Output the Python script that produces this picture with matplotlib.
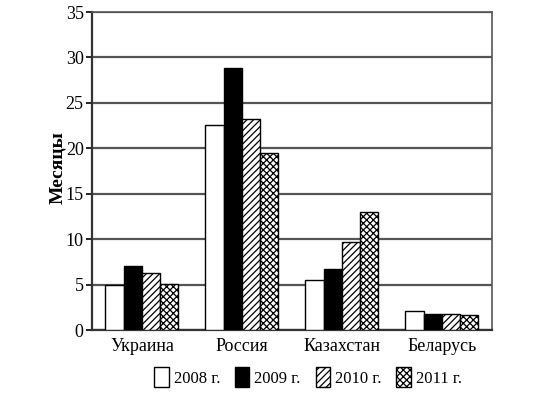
import matplotlib
matplotlib.use("Agg")
import matplotlib.pyplot as plt
import numpy as np

countries = ["Украина", "Россия", "Казахстан", "Беларусь"]
years = ["2008 г.", "2009 г.", "2010 г.", "2011 г."]
v2008 = [5.0, 22.6, 5.5, 2.1]
v2009 = [7.1, 28.8, 6.7, 1.75]
v2010 = [6.3, 23.2, 9.7, 1.75]
v2011 = [5.1, 19.5, 13.0, 1.6]
yticks = [0, 5, 10, 15, 20, 25, 30, 35]

plt.rcParams["font.family"] = ["Liberation Serif", "DejaVu Serif"]
plt.rcParams["hatch.linewidth"] = 0.9

fig = plt.figure(figsize=(5.46, 3.94), dpi=100)
ax = fig.add_axes([0.1685, 0.1624, 0.7325, 0.8071])

x = np.arange(len(countries))
w = 0.1825
styles = [("white", ""), ("black", ""), ("white", "/////"), ("white", "xxxxx")]
series = [v2008, v2009, v2010, v2011]
for i, (vals, (fc, hatch)) in enumerate(zip(series, styles)):
    ax.bar(x + (i - 1.5) * w, vals, w, color=fc, edgecolor="black",
           hatch=hatch, linewidth=1.0, label=years[i], zorder=3)

ax.set_xlim(-0.5, 3.5)
ax.set_ylim(0, 35)
ax.set_yticks(yticks)
ax.set_yticklabels([str(t) for t in yticks], fontsize=13)
ax.set_xticks(x)
ax.set_xticklabels(countries, fontsize=13)
ax.tick_params(axis="x", length=0, pad=6)
ax.tick_params(axis="y", direction="out", length=4, width=1.2, pad=2)
ax.yaxis.grid(True, color="#555555", linewidth=1.6, zorder=1)
ax.set_axisbelow(True)
for s in ["left", "bottom"]:
    ax.spines[s].set_linewidth(1.6)
    ax.spines[s].set_color("#333333")
for s in ["right", "top"]:
    ax.spines[s].set_linewidth(1.2)
    ax.spines[s].set_color("#555555")
ax.set_ylabel("Месяцы", fontsize=14, fontweight="bold")
ax.yaxis.set_label_coords(-0.065, 0.51)

fig.legend(loc="center", bbox_to_anchor=(308 / 546, 1 - 377 / 394), ncol=4,
           frameon=False, fontsize=12, handlelength=0.85, handleheight=1.4,
           handletextpad=0.3, columnspacing=0.9)

fig.savefig("out.png", dpi=100)
